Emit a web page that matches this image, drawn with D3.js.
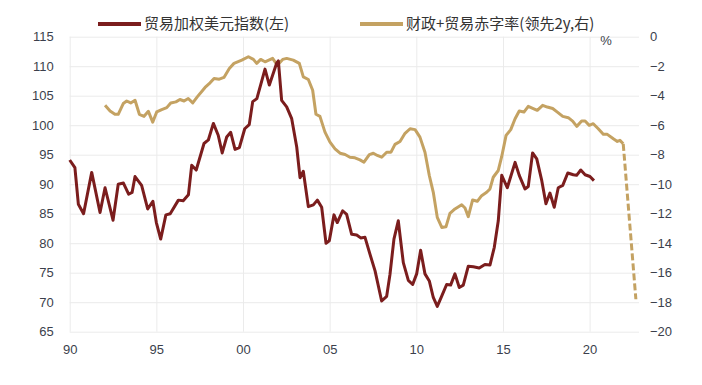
<!DOCTYPE html>
<html>
<head>
<meta charset="utf-8">
<script src="https://cdn.jsdelivr.net/npm/d3@7"></script>
<style>
  body { margin: 0; background: #fff; }
  .tick text { font-family: "Liberation Sans", Arial, sans-serif; font-size: 13px; fill: #3b3f4c; }
  .grid line { stroke: #ebebeb; stroke-width: 1; }
  .grid .domain { display: none; }
</style>
</head>
<body>
<div id="chart"></div>
<script>
// trade-weighted dollar index (left axis), [year, value]
var dollarYears = [1990.0, 1990.3, 1990.5, 1990.8, 1991.27, 1991.75, 1992.04, 1992.5, 1992.8, 1993.1,
    1993.4, 1993.6, 1993.77, 1994.15, 1994.5, 1994.8, 1995.0, 1995.25, 1995.55, 1995.8,
    1996.27, 1996.55, 1996.85, 1997.04, 1997.3, 1997.75, 1998.0, 1998.29, 1998.57, 1998.8,
    1999.06, 1999.29, 1999.54, 1999.79, 2000.1, 2000.36, 2000.56, 2000.8, 2001.27, 2001.52,
    2001.94, 2002.04, 2002.23, 2002.52, 2002.81, 2003.1, 2003.29, 2003.48, 2003.77, 2004.06,
    2004.29, 2004.54, 2004.79, 2004.98, 2005.25, 2005.44, 2005.75, 2005.98, 2006.27, 2006.56,
    2006.79, 2007.04, 2007.33, 2007.62, 2008.0, 2008.29, 2008.48, 2008.71, 2008.96, 2009.25,
    2009.54, 2009.79, 2010.02, 2010.25, 2010.5, 2010.75, 2010.98, 2011.21, 2011.46, 2011.75,
    2011.98, 2012.23, 2012.48, 2012.71, 2013.0, 2013.29, 2013.63, 2013.96, 2014.25, 2014.5,
    2014.73, 2014.93, 2015.25, 2015.7, 2015.94, 2016.27, 2016.46, 2016.71, 2016.95, 2017.24,
    2017.48, 2017.71, 2017.96, 2018.19, 2018.45, 2018.74, 2019.06, 2019.25, 2019.49, 2019.74,
    2020.02, 2020.25];
var dollarValues = [94.1, 92.8, 86.6, 85.0, 92.0, 85.2, 89.4, 83.9, 90.0, 90.2,
    88.3, 88.6, 91.3, 89.8, 85.8, 87.1, 83.5, 80.7, 84.8, 85.0,
    87.3, 87.2, 88.2, 93.2, 92.4, 96.9, 97.5, 100.3, 98.3, 95.3,
    98.0, 98.8, 95.9, 96.2, 99.4, 100.1, 104.0, 104.5, 109.5, 106.8,
    110.5, 110.9, 104.2, 103.1, 101.1, 96.3, 91.1, 92.2, 86.2, 86.5,
    87.3, 86.1, 80.0, 80.4, 84.8, 83.5, 85.5, 84.9, 81.5, 81.4,
    80.9, 81.0, 78.1, 75.3, 70.2, 71.0, 74.7, 80.7, 83.8, 76.7,
    73.7, 73.0, 74.8, 78.8, 74.8, 73.6, 70.8, 69.3, 71.0, 73.0,
    72.9, 74.8, 72.5, 72.9, 76.1, 76.0, 75.8, 76.4, 76.3, 79.3,
    83.8, 91.5, 89.4, 93.7, 91.5, 89.2, 89.6, 95.3, 94.3, 90.6,
    86.7, 88.5, 86.1, 89.4, 89.8, 91.9, 91.6, 91.5, 92.4, 91.6,
    91.3, 90.6];

// fiscal + trade deficit ratio, led 2y (right axis, %)
var deficitYears = [1992.04, 1992.33, 1992.61, 1992.8, 1993.09, 1993.29, 1993.52, 1993.77, 1994.02, 1994.29,
    1994.54, 1994.79, 1995.02, 1995.31, 1995.6, 1995.83, 1996.13, 1996.36, 1996.6, 1996.84,
    1997.1, 1997.36, 1997.81, 1998.1, 1998.33, 1998.63, 1998.9, 1999.21, 1999.48, 1999.93,
    2000.31, 2000.6, 2000.79, 2001.02, 2001.27, 2001.71, 2001.98, 2002.29, 2002.52, 2002.9,
    2003.25, 2003.48, 2003.77, 2004.02, 2004.21, 2004.44, 2004.73, 2005.02, 2005.31, 2005.6,
    2005.89, 2006.17, 2006.46, 2006.75, 2006.98, 2007.29, 2007.52, 2007.75, 2008.0, 2008.29,
    2008.54, 2008.77, 2009.06, 2009.35, 2009.64, 2009.93, 2010.21, 2010.5, 2010.75, 2010.98,
    2011.21, 2011.47, 2011.71, 2011.94, 2012.23, 2012.62, 2012.81, 2013.0, 2013.25, 2013.52,
    2013.77, 2014.06, 2014.25, 2014.44, 2014.73, 2014.93, 2015.18, 2015.45, 2015.7, 2015.94,
    2016.21, 2016.46, 2016.75, 2016.98, 2017.29, 2017.56, 2017.87, 2018.14, 2018.45, 2018.77,
    2019.02, 2019.26, 2019.54, 2019.74, 2019.98, 2020.21, 2020.5, 2020.79, 2021.02, 2021.37,
    2021.6, 2021.75, 2021.94];
var deficitValues = [-4.65, -5.04, -5.26, -5.26, -4.53, -4.36, -4.49, -4.31, -5.26, -5.40,
    -5.06, -5.79, -5.10, -4.94, -4.81, -4.49, -4.42, -4.26, -4.36, -4.19,
    -4.49, -4.08, -3.44, -3.13, -2.83, -2.88, -2.76, -2.15, -1.81, -1.59,
    -1.36, -1.54, -1.81, -1.54, -1.70, -1.47, -1.93, -1.54, -1.47, -1.59,
    -1.81, -2.72, -2.90, -3.63, -5.26, -5.40, -6.47, -7.15, -7.60, -7.90,
    -7.99, -8.17, -8.21, -8.35, -8.51, -7.99, -7.90, -8.05, -8.17, -7.83,
    -7.83, -7.30, -7.10, -6.55, -6.24, -6.30, -6.81, -7.83, -9.41, -10.55,
    -12.25, -12.93, -12.89, -11.98, -11.68, -11.39, -11.61, -12.2, -11.07, -11.16,
    -10.78, -10.55, -10.32, -9.53, -9.07, -8.12, -6.69, -6.30, -5.56, -5.04,
    -5.11, -4.72, -4.87, -4.99, -4.65, -4.77, -4.87, -5.11, -5.40, -5.49,
    -5.72, -6.08, -5.72, -5.72, -6.01, -5.90, -6.24, -6.62, -6.62, -6.92,
    -7.10, -7.03, -7.26];
// projected part (dashed)
var projYears = [2021.94, 2022.67];
var projValues = [-7.26, -17.8];

var xTicks = [1990, 1995, 2000, 2005, 2010, 2015, 2020];
var leftTicks = [65, 70, 75, 80, 85, 90, 95, 100, 105, 110, 115];
var rightTicks = [-20, -18, -16, -14, -12, -10, -8, -6, -4, -2, 0];
var legendNames = ["贸易加权美元指数(左)", "财政+贸易赤字率(领先2y,右)"];

var width = 702, height = 385;
var plot = { left: 69.7, right: 639, top: 36.7, bottom: 331.7 };
var colors = ["#7b1d1d", "#c4a262"];

var x = d3.scaleLinear().domain([1990, 2022.85]).range([plot.left, plot.right]);
var yL = d3.scaleLinear().domain([65, 115]).range([plot.bottom, plot.top]);
var yR = d3.scaleLinear().domain([-20, 0]).range([plot.bottom, plot.top]);

var svg = d3.select("#chart").append("svg")
    .attr("width", width)
    .attr("height", height);

// grid lines
svg.append("g")
    .attr("class", "grid")
    .attr("transform", "translate(0," + plot.bottom + ")")
    .call(d3.axisBottom(x).tickValues(xTicks).tickSize(-(plot.bottom - plot.top)).tickFormat(""));
svg.append("g")
    .attr("class", "grid")
    .attr("transform", "translate(" + plot.left + ",0)")
    .call(d3.axisLeft(yL).tickValues(leftTicks).tickSize(-(plot.right - plot.left)).tickFormat(""));

// axes (labels only)
var xAxis = svg.append("g")
    .attr("transform", "translate(0," + plot.bottom + ")")
    .call(d3.axisBottom(x).tickValues(xTicks).tickSize(0).tickPadding(13)
        .tickFormat(function(d) { return d3.format("02d")(d % 100); }));
var lAxis = svg.append("g")
    .attr("transform", "translate(" + (plot.left - 16) + ",0)")
    .call(d3.axisLeft(yL).tickValues(leftTicks).tickSize(0).tickPadding(0));
var rAxis = svg.append("g")
    .attr("transform", "translate(650,0)")
    .call(d3.axisRight(yR).tickValues(rightTicks).tickSize(0).tickPadding(0));
[xAxis, lAxis, rAxis].forEach(function(a) { a.select(".domain").remove(); });

svg.append("text")
    .attr("x", 606).attr("y", 45)
    .attr("text-anchor", "middle")
    .style("font-family", "Liberation Sans, Arial, sans-serif")
    .style("font-size", "13px")
    .style("fill", "#3b3f4c")
    .text("%");

// lines
var lineL = d3.line().x(function(d) { return x(d[0]); }).y(function(d) { return yL(d[1]); });
var lineR = d3.line().x(function(d) { return x(d[0]); }).y(function(d) { return yR(d[1]); });

svg.append("path")
    .datum(d3.zip(deficitYears, deficitValues))
    .attr("fill", "none")
    .attr("stroke", colors[1])
    .attr("stroke-width", 3)
    .attr("stroke-linejoin", "round")
    .attr("d", lineR);

svg.append("path")
    .datum(d3.zip(projYears, projValues))
    .attr("fill", "none")
    .attr("stroke", colors[1])
    .attr("stroke-width", 3)
    .attr("stroke-dasharray", "7,3")
    .attr("d", lineR);

svg.append("path")
    .datum(d3.zip(dollarYears, dollarValues))
    .attr("fill", "none")
    .attr("stroke", colors[0])
    .attr("stroke-width", 3)
    .attr("stroke-linejoin", "round")
    .attr("d", lineL);

// legend
var legendX = [98, 360];
var legend = svg.selectAll(".legend").data(legendNames).enter().append("g")
    .attr("class", "legend")
    .attr("transform", function(d, i) { return "translate(" + legendX[i] + ",24)"; });
legend.append("line")
    .attr("x1", 0).attr("x2", 43)
    .attr("stroke", function(d, i) { return colors[i]; })
    .attr("stroke-width", 4);
legend.append("text")
    .attr("x", 46).attr("dy", "0.35em")
    .style("font-family", "Noto Sans CJK SC, sans-serif")
    .style("font-size", "15px")
    .style("fill", "#333")
    .text(function(d) { return d; });
</script>
</body>
</html>
